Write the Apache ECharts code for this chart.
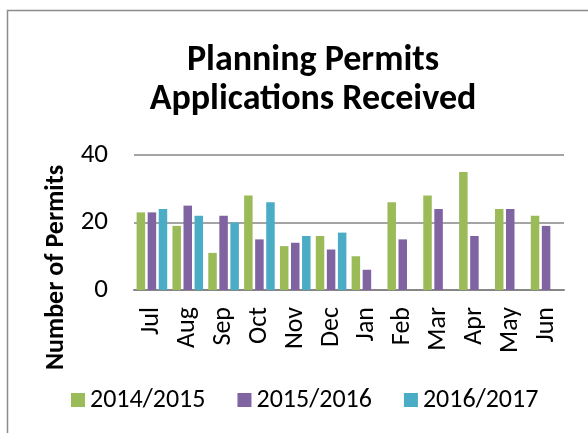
<!DOCTYPE html>
<html>
<head>
<meta charset="utf-8">
<script src="https://cdn.jsdelivr.net/npm/echarts@6/dist/echarts.min.js"></script>
<style>
  html, body { margin: 0; padding: 0; background: #fff; }
  #chart { width: 588px; height: 433px; }
</style>
</head>
<body>
<div id="chart"></div>
<script>
const months = ["Jul", "Aug", "Sep", "Oct", "Nov", "Dec", "Jan", "Feb", "Mar", "Apr", "May", "Jun"];
const fy1415 = [23, 19, 11, 28, 13, 16, 10, 26, 28, 35, 24, 22];
const fy1516 = [23, 25, 22, 15, 14, 12, 6, 15, 24, 16, 24, 19];
const fy1617 = [24, 22, 20, 26, 16, 17, null, null, null, null, null, null];
const seriesNames = ["2014/2015", "2015/2016", "2016/2017"];
const colors = ["#9bbb59", "#8064a2", "#4bacc6"];

const font = "Carlito, Lato, 'Open Sans', sans-serif";
const chart = echarts.init(document.getElementById("chart"));

function barSeries(name, data, color) {
  return {
    name,
    type: "bar",
    data,
    barWidth: 8.5,
    barGap: "30%",
    itemStyle: { color },
  };
}

chart.setOption({
  animation: false,
  textStyle: { fontFamily: font },
  title: {
    text: "Planning Permits\nApplications Received",
    left: 308,
    textAlign: "center",
    top: 36,
    textStyle: { fontFamily: font, fontSize: 36, fontWeight: "bold", color: "#000", lineHeight: 39 },
  },
  graphic: [{
    type: "rect",
    shape: { x: 7.5, y: 10.5, width: 620, height: 450 },
    style: { fill: "none", stroke: "#8c8c8c", lineWidth: 1.5 },
  }],
  legend: {
    left: 66,
    top: 382,
    itemWidth: 14,
    itemHeight: 14,
    itemGap: 32,
    icon: "rect",
    textStyle: { fontFamily: font, fontSize: 26, color: "#000" },
  },
  grid: { left: 134, right: 24, top: 155, bottom: 143 },
  xAxis: {
    type: "category",
    data: months,
    axisLine: { lineStyle: { color: "#868686", width: 2 } },
    axisTick: { show: false },
    axisLabel: { rotate: 90, margin: 17, fontSize: 26, color: "#000", fontFamily: font, interval: 0 },
  },
  yAxis: {
    type: "value",
    min: 0,
    max: 40,
    interval: 20,
    name: "Number of Permits",
    nameLocation: "middle",
    nameRotate: 90,
    nameGap: 63,
    nameTextStyle: { fontFamily: font, fontSize: 26, fontWeight: "bold", color: "#000", padding: [0, 90, 0, 0] },
    axisLine: { show: false },
    axisTick: { show: false },
    axisLabel: { margin: 26, fontSize: 27, color: "#000", fontFamily: font },
    splitLine: { lineStyle: { color: "#868686", width: 1.5 } },
  },
  series: [
    barSeries(seriesNames[0], fy1415, colors[0]),
    barSeries(seriesNames[1], fy1516, colors[1]),
    barSeries(seriesNames[2], fy1617, colors[2]),
  ],
});
</script>
</body>
</html>
